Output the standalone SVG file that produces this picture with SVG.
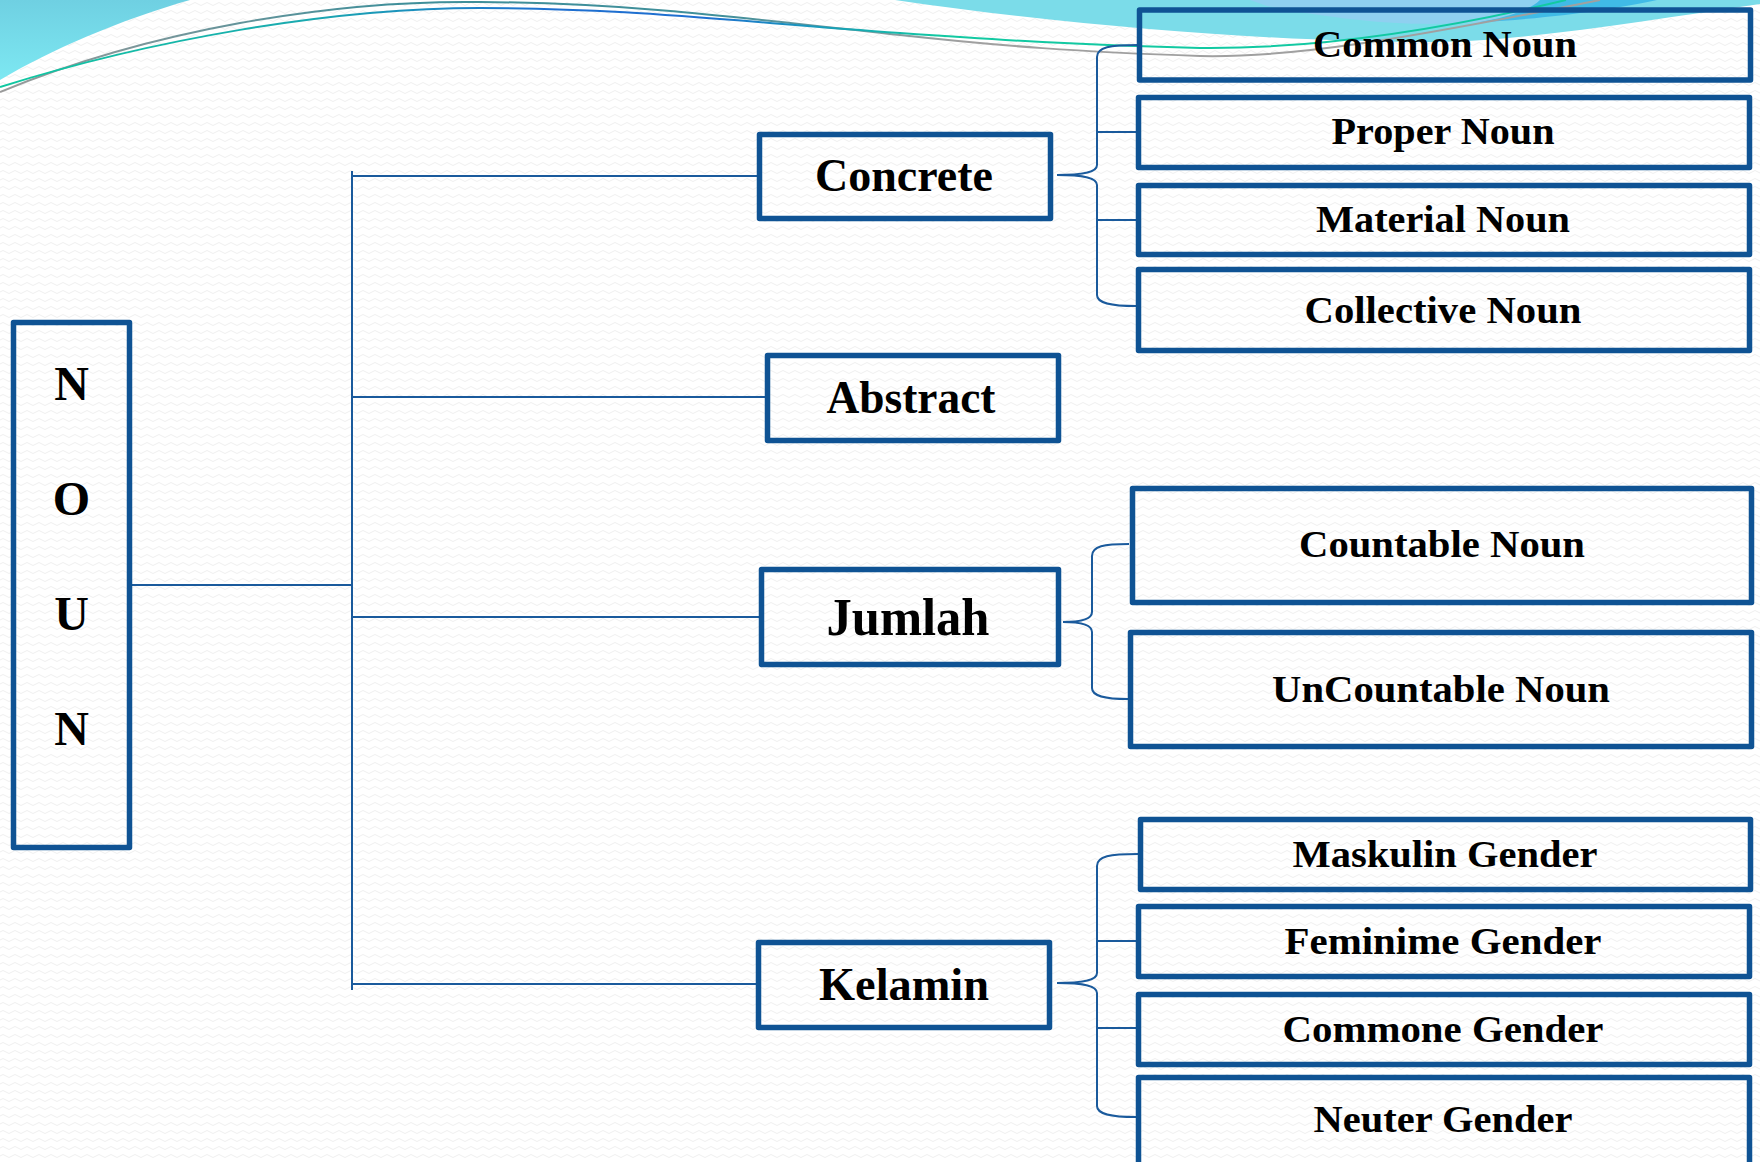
<svg xmlns="http://www.w3.org/2000/svg" width="1760" height="1162" viewBox="0 0 1760 1162">
<defs>
<pattern id="bgp" width="12" height="8" patternUnits="userSpaceOnUse">
<path d="M0,4 Q3,1 6,4 T12,4" fill="none" stroke="#efefef" stroke-width="1"/>
</pattern>
<linearGradient id="lg1" x1="0" y1="0" x2="0" y2="1">
<stop offset="0" stop-color="#6fd0e2"/><stop offset="1" stop-color="#7de8f2"/>
</linearGradient>
<linearGradient id="lineA" x1="0" y1="0" x2="1" y2="0">
<stop offset="0" stop-color="#9a9a9a"/><stop offset="0.25" stop-color="#3f8f9a"/><stop offset="0.45" stop-color="#3f8f9a"/><stop offset="0.6" stop-color="#a0a0a0"/><stop offset="1" stop-color="#a0a0a0"/>
</linearGradient>
<linearGradient id="lineB" x1="0" y1="0" x2="1" y2="0">
<stop offset="0" stop-color="#10c8a0"/><stop offset="0.2" stop-color="#1aa8b0"/><stop offset="0.35" stop-color="#1e6fd0"/><stop offset="0.45" stop-color="#1e6fd0"/><stop offset="0.6" stop-color="#12c9a2"/><stop offset="1" stop-color="#12c9a2"/>
</linearGradient>
</defs>
<style>
.box{fill:none;stroke:#0f5394;stroke-width:5.5;stroke-linejoin:round}
.con{fill:none;stroke:#1a5a9c;stroke-width:2}
.t{font-family:"Liberation Serif","Times New Roman",serif;font-weight:bold;fill:#000;text-anchor:middle}
.tl{font-size:46px}
.tr{font-size:38px}
.tn{font-size:48px}
</style>
<rect width="1760" height="1162" fill="#ffffff"/>
<rect width="1760" height="1162" fill="url(#bgp)"/>
<g id="decoration">
<path d="M0,0 H190 C120,20 50,50 0,80 Z" fill="url(#lg1)"/>
<path d="M895,0 H1760 V4 C1650,20 1520,42 1430,42 C1300,42 1100,30 895,0 Z" fill="#7bdce9"/>
<path d="M1267,6 C1330,18 1380,24 1430,24 C1520,24 1600,10 1657,0 H1250 Z" fill="#8fd0f0"/>
<path d="M1480,22 C1560,18 1620,8 1657,0 H1540 C1530,10 1505,18 1480,22 Z" fill="#40bbe6"/>
<path d="M0,92 C150,30 330,0 480,2 C620,3 720,15 900,35 C1000,46 1080,52 1200,56 C1290,58 1400,40 1600,0" fill="none" stroke="url(#lineA)" stroke-width="2"/>
<path d="M0,87 C150,40 330,8 480,8 C620,8 720,20 900,33 C1000,40 1080,45 1200,48 C1300,49 1420,35 1566,0" fill="none" stroke="url(#lineB)" stroke-width="2"/>
</g>
<g id="connectors">
<path class="con" d="M132,585 H352"/>
<path class="con" d="M352,171 V990"/>
<path class="con" d="M352,176 H758"/>
<path class="con" d="M352,397 H766"/>
<path class="con" d="M352,617 H760"/>
<path class="con" d="M352,984 H758"/>
<path class="con" d="M1138,45 C1110,45 1097,47 1097,57 V165 C1097,172 1085,175 1057,175 C1085,175 1097,178 1097,185 V295 C1097,303 1110,306 1136,306"/>
<path class="con" d="M1097,132 H1136 M1097,220 H1136"/>
<path class="con" d="M1129,544 C1104,544 1092,546 1092,556 V612 C1092,619 1080,622 1063,622 C1080,622 1092,625 1092,632 V688 C1092,696 1104,699 1128,699"/>
<path class="con" d="M1138,854 C1110,854 1097,856 1097,866 V973 C1097,980 1085,983 1057,983 C1085,983 1097,986 1097,993 V1106 C1097,1114 1110,1117 1136,1117"/>
<path class="con" d="M1097,941 H1136 M1097,1028 H1136"/>
</g>
<g id="noun">
<rect class="box" x="13.5" y="322.5" width="116" height="525"/>
<text class="t tn" x="71.5" y="400">N</text>
<text class="t tn" x="71.5" y="515">O</text>
<text class="t tn" x="71.5" y="630">U</text>
<text class="t tn" x="71.5" y="745">N</text>
</g>
<g id="concrete">
<rect class="box" x="759.5" y="134.5" width="291" height="84"/>
<text class="t tl" x="904" y="191" textLength="178" lengthAdjust="spacingAndGlyphs">Concrete</text>
</g>
<g id="abstract">
<rect class="box" x="767.5" y="355.5" width="291" height="85"/>
<text class="t tl" x="911" y="413" textLength="169" lengthAdjust="spacingAndGlyphs">Abstract</text>
</g>
<g id="jumlah">
<rect class="box" x="761.5" y="569.5" width="297" height="95"/>
<text class="t" style="font-size:52px" x="908" y="635" textLength="163" lengthAdjust="spacingAndGlyphs">Jumlah</text>
</g>
<g id="kelamin">
<rect class="box" x="758.5" y="942.5" width="291" height="85"/>
<text class="t tl" x="904" y="1000" textLength="170" lengthAdjust="spacingAndGlyphs">Kelamin</text>
</g>
<g id="common-noun">
<rect class="box" x="1139.5" y="10" width="611" height="70"/>
<text class="t tr" x="1445" y="57" textLength="264" lengthAdjust="spacingAndGlyphs">Common Noun</text>
</g>
<g id="proper-noun">
<rect class="box" x="1138.5" y="97.5" width="611" height="70"/>
<text class="t tr" x="1443" y="144" textLength="223" lengthAdjust="spacingAndGlyphs">Proper Noun</text>
</g>
<g id="material-noun">
<rect class="box" x="1138.5" y="185.5" width="611" height="69"/>
<text class="t tr" x="1443" y="232" textLength="254" lengthAdjust="spacingAndGlyphs">Material Noun</text>
</g>
<g id="collective-noun">
<rect class="box" x="1138.5" y="269.5" width="611" height="81"/>
<text class="t tr" x="1443" y="323" textLength="277" lengthAdjust="spacingAndGlyphs">Collective Noun</text>
</g>
<g id="countable-noun">
<rect class="box" x="1132.5" y="488.5" width="619" height="114"/>
<text class="t tr" x="1442" y="557" textLength="286" lengthAdjust="spacingAndGlyphs">Countable Noun</text>
</g>
<g id="uncountable-noun">
<rect class="box" x="1130.5" y="632.5" width="621" height="114"/>
<text class="t tr" x="1441" y="702" textLength="338" lengthAdjust="spacingAndGlyphs">UnCountable Noun</text>
</g>
<g id="maskulin-gender">
<rect class="box" x="1140.5" y="819.5" width="610" height="70"/>
<text class="t tr" x="1445" y="867" textLength="305" lengthAdjust="spacingAndGlyphs">Maskulin Gender</text>
</g>
<g id="feminime-gender">
<rect class="box" x="1138.5" y="906.5" width="611" height="70"/>
<text class="t tr" x="1443" y="954" textLength="317" lengthAdjust="spacingAndGlyphs">Feminime Gender</text>
</g>
<g id="commone-gender">
<rect class="box" x="1138.5" y="994.5" width="611" height="70"/>
<text class="t tr" x="1443" y="1042" textLength="321" lengthAdjust="spacingAndGlyphs">Commone Gender</text>
</g>
<g id="neuter-gender">
<rect class="box" x="1138.5" y="1077.5" width="611" height="100"/>
<text class="t tr" x="1443" y="1132" textLength="259" lengthAdjust="spacingAndGlyphs">Neuter Gender</text>
</g>
</svg>
